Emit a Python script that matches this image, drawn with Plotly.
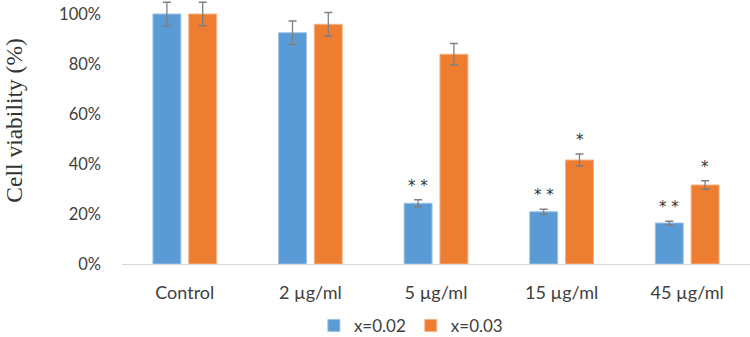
import plotly.graph_objects as go

categories = ["Control", "2 µg/ml", "5 µg/ml", "15 µg/ml", "45 µg/ml"]
x002 = [1.00, 0.925, 0.243, 0.209, 0.164]
x002_err = [0.047, 0.047, 0.014, 0.010, 0.007]
x003 = [1.00, 0.959, 0.839, 0.416, 0.316]
x003_err = [0.047, 0.047, 0.043, 0.024, 0.017]
x002_sig = ["", "", "**", "**", "**"]
x003_sig = ["", "", "", "*", "*"]

BLUE = "#5B9BD5"
ORANGE = "#ED7D31"
ERR = "#7F7F7F"
TXT = "#404040"

fig = go.Figure()
fig.add_trace(go.Bar(
    x=categories, y=x002, name="x=0.02", cliponaxis=False,
    marker=dict(color=BLUE, line=dict(color="#9DC3E6", width=1)),
    error_y=dict(type="data", array=x002_err, color=ERR, thickness=1.3, width=4),
))
fig.add_trace(go.Bar(
    x=categories, y=x003, name="x=0.03", cliponaxis=False,
    marker=dict(color=ORANGE, line=dict(color="#F4B183", width=1)),
    error_y=dict(type="data", array=x003_err, color=ERR, thickness=1.3, width=4),
))

for c, v, e, s in zip(categories, x002, x002_err, x002_sig):
    if s:
        fig.add_annotation(x=c, y=v + e, text=" ".join(s), showarrow=False,
                           xref="x", yref="y", xshift=-18, yshift=3, yanchor="bottom",
                           font=dict(family="DejaVu Sans", size=15, color="#333333"))
for c, v, e, s in zip(categories, x003, x003_err, x003_sig):
    if s:
        fig.add_annotation(x=c, y=v + e, text=s, showarrow=False,
                           xref="x", yref="y", xshift=18, yshift=3, yanchor="bottom",
                           font=dict(family="DejaVu Sans", size=15, color="#333333"))

fig.add_annotation(text="Cell viability (%)", textangle=-90, showarrow=False,
                   xref="paper", yref="paper", x=-0.172, y=0.545,
                   xanchor="center", yanchor="middle",
                   font=dict(family="Liberation Serif", size=23.5, color="#333333"))

fig.update_layout(
    width=750, height=337,
    margin=dict(l=122, r=0, t=1, b=73),
    paper_bgcolor="white", plot_bgcolor="white",
    bargap=0.43, bargroupgap=0.22,
    font=dict(family="Lato", size=17, color=TXT),
    showlegend=True,
    legend=dict(orientation="h", x=0.46, xanchor="center",
                yref="container", y=0.033, yanchor="middle",
                font=dict(family="Lato", size=17, color=TXT),
                itemwidth=30, tracegroupgap=0),
)
fig.update_yaxes(range=[0, 1.052], tickvals=[0, 0.2, 0.4, 0.6, 0.8, 1.0],
                 tickformat=".0%", showgrid=False,
                 zeroline=False, showline=False, ticks="", ticklabelstandoff=20,
                 tickfont=dict(family="Lato", size=16.5, color=TXT))
fig.update_xaxes(showline=True, linecolor="#D9D9D9", linewidth=1, ticks="",
                 tickfont=dict(family="Lato", size=18, color=TXT),
                 ticklabelstandoff=12)

fig.write_html("out.html", config={"displayModeBar": False},
               post_script="document.body.style.margin='0';document.body.style.overflow='hidden';")
